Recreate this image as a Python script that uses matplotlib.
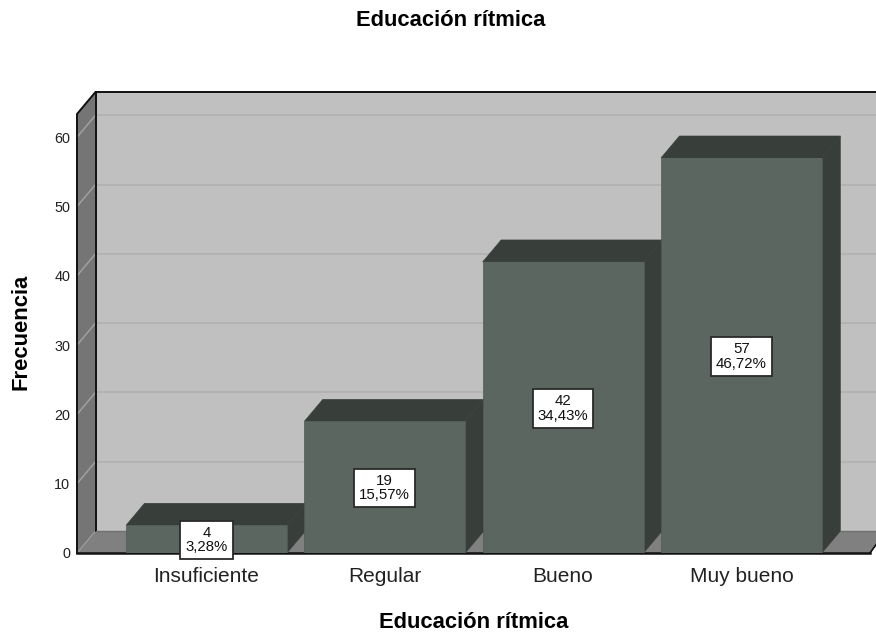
import matplotlib
matplotlib.use("Agg")
import matplotlib.pyplot as plt
from matplotlib.patches import Polygon

plt.rcParams['font.family'] = ['Liberation Sans', 'DejaVu Sans']

categories = ['Insuficiente', 'Regular', 'Bueno', 'Muy bueno']
counts = [4, 19, 42, 57]
percents = ['3,28%', '15,57%', '34,43%', '46,72%']
y_ticks = [0, 10, 20, 30, 40, 50, 60]
title = 'Educación rítmica'
x_title = 'Educación rítmica'
y_title = 'Frecuencia'

W, H = 876, 632
FRONT = '#5b6660'; DARK = '#383f3a'
WALL = '#c0c0c0'; SIDE = '#757575'; FLOOR = '#808080'
GRID = '#b0b0b0'; SIDEGRID = '#a0a0a0'

fig = plt.figure(figsize=(W / 100, H / 100), dpi=100, facecolor='white')
L, R, T, B = 77, 876, 114, 553
ax = fig.add_axes([L / W, 1 - B / H, (R - L) / W, (B - T) / H])
px_x = 178.3
px_y = 6.93
ax.set_xlim((L - 206.5) / px_x, (R - 206.5) / px_x)
ax.set_ylim(0, (B - T) / px_y)
ax.patch.set_visible(False)
for s in ax.spines.values():
    s.set_visible(False)

dx, dy = 18.5 / px_x, 22 / px_y
x0, x1 = ax.get_xlim()
ytop = ax.get_ylim()[1]
xend = x1 + 20 / px_x
xfloor = (870 - 206.5) / px_x

# walls and floor
ax.add_patch(Polygon([(x0 + dx, dy), (xend, dy), (xend, ytop + dy), (x0 + dx, ytop + dy)],
                     fc=WALL, ec='none', zorder=1, clip_on=False))
ax.add_patch(Polygon([(x0, 0), (x0 + dx, dy), (x0 + dx, ytop + dy), (x0, ytop)],
                     fc=SIDE, ec='none', zorder=1, clip_on=False))
ax.add_patch(Polygon([(x0, 0), (xfloor, 0), (xfloor + dx, dy), (x0 + dx, dy)],
                     fc=FLOOR, ec='none', zorder=1, clip_on=False))

for v in y_ticks:
    if v > 0:
        ax.plot([x0 + dx, x1], [v + dy, v + dy], color=GRID, lw=1.1, zorder=2, clip_on=False)
        ax.plot([x0, x0 + dx], [v, v + dy], color=SIDEGRID, lw=1.1, zorder=2, clip_on=False)
ax.plot([x0, x0 + dx], [0, dy], color='#999999', lw=1, zorder=2)

# frame lines
ax.plot([x0, x0, x0 + dx, x1], [0, ytop, ytop + dy, ytop + dy], color='#111111', lw=1.4, zorder=3,
        clip_on=False, solid_joinstyle='miter')
ax.plot([x0 + dx, x0 + dx], [dy, ytop + dy], color='#111111', lw=1.4, zorder=3, clip_on=False)
ax.plot([x0 + dx, x1], [dy, dy], color='#707070', lw=1, zorder=3, clip_on=False)
ax.plot([x0, xfloor], [0, 0], color='#111111', lw=1.8, zorder=3, clip_on=False)
ax.plot([xfloor, xfloor + 0.034], [0, 25 / 3 / px_y], color='#111111', lw=1.2, zorder=3, clip_on=False)

# bars
bw = 161 / px_x
for i, v in enumerate(counts):
    z = 4 + i
    l, r = i - bw / 2, i + bw / 2
    ax.bar(i, v, width=bw, color=FRONT, edgecolor='#505b56', linewidth=0.5, zorder=z + 0.2)
    ax.add_patch(Polygon([(l, v), (r, v), (r + dx, v + dy), (l + dx, v + dy)],
                         fc=DARK, ec=DARK, lw=0.4, zorder=z, clip_on=False))
    ax.add_patch(Polygon([(r, 0), (r + dx, dy), (r + dx, v + dy), (r, v)],
                         fc=DARK, ec=DARK, lw=0.4, zorder=z, clip_on=False))

for i, v in enumerate(counts):
    ax.text(i, v / 2 - 0.15, f'{v}\n{percents[i]}', ha='center', va='center', fontsize=10.8,
            linespacing=1.03, color='#111111', zorder=20, clip_on=False,
            bbox=dict(boxstyle='square,pad=0.33', fc='white', ec='#2a2a2a', lw=1.3))

ax.set_yticks(y_ticks)
ax.set_yticklabels([str(v) for v in y_ticks], fontsize=10.4, color='#222222')
ax.set_xticks(range(len(categories)))
ax.set_xticklabels(categories, fontsize=15, color='#222222')
ax.tick_params(axis='both', length=0)
ax.tick_params(axis='y', pad=5)
ax.tick_params(axis='x', pad=10)

fig.text(451 / W, 1 - 21 / H, title, ha='center', va='center', fontsize=15.8, fontweight='bold', color='black')
fig.text(474 / W, 1 - 622 / H, x_title, ha='center', va='center', fontsize=15.8, fontweight='bold', color='black')
fig.text(21 / W, 1 - 332 / H, y_title, ha='center', va='center', rotation=90, fontsize=15.8, fontweight='bold', color='black')

fig.savefig('out.png', dpi=100, facecolor='white')
